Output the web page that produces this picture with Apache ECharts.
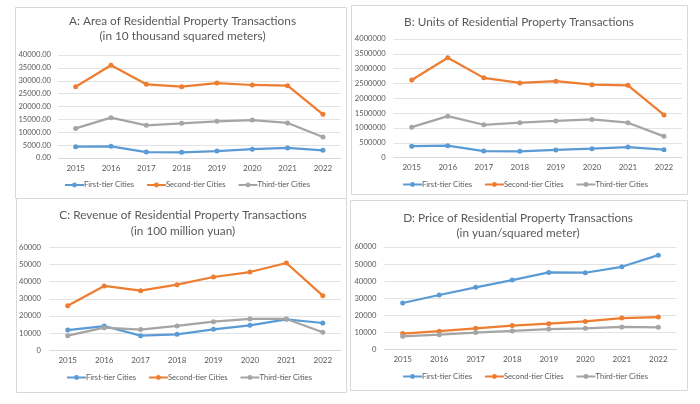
<!DOCTYPE html>
<html>
<head>
<meta charset="utf-8">
<script src="https://cdn.jsdelivr.net/npm/echarts@6/dist/echarts.min.js"></script>
<style>
html,body{margin:0;padding:0;background:#fff;}
#chart{width:700px;height:404px;}
</style>
</head>
<body>
<div id="chart"></div>
<script>
const years = ['2015','2016','2017','2018','2019','2020','2021','2022'];
const seriesNames = ['First-tier Cities','Second-tier Cities','Third-tier Cities'];

const areaFirst  = [4400, 4550, 2300, 2200, 2700, 3400, 3900, 3000];
const areaSecond = [27700, 36000, 28600, 27700, 29100, 28350, 28100, 16950];
const areaThird  = [11500, 15650, 12700, 13450, 14250, 14750, 13600, 8150];

const unitsFirst  = [390000, 405000, 225000, 215000, 260000, 305000, 360000, 270000];
const unitsSecond = [2620000, 3370000, 2690000, 2520000, 2580000, 2460000, 2440000, 1440000];
const unitsThird  = [1030000, 1400000, 1110000, 1180000, 1240000, 1290000, 1180000, 720000];

const revFirst  = [11800, 14150, 8500, 9300, 12200, 14550, 18050, 15900];
const revSecond = [26000, 37500, 34750, 38250, 42700, 45600, 50850, 31800];
const revThird  = [8500, 13200, 12050, 14200, 16700, 18250, 18250, 10500];

const priceFirst  = [27150, 31850, 36350, 40600, 45100, 44900, 48400, 55200];
const priceSecond = [9200, 10600, 12300, 13900, 15050, 16350, 18300, 18900];
const priceThird  = [7600, 8600, 9800, 10750, 11900, 12300, 13100, 12900];

const titles = [
  'A: Area of Residential Property Transactions\n(in 10 thousand squared meters)',
  'B: Units of Residential Property Transactions',
  'C: Revenue of Residential Property Transactions\n(in 100 million yuan)',
  'D: Price of Residential Property Transactions\n(in yuan/squared meter)'
];
const yMax = [40000, 4000000, 60000, 60000];
const yInterval = [5000, 500000, 10000, 10000];
const panelData = [
  [areaFirst, areaSecond, areaThird],
  [unitsFirst, unitsSecond, unitsThird],
  [revFirst, revSecond, revThird],
  [priceFirst, priceSecond, priceThird]
];

const colors = ['#5B9BD5', '#ED7D31', '#A5A5A5'];
const FONT = 'Lato';
const TXT = '#595959';

const layout = [
  {box:[15,7,331,191],  grid:{left:58,   top:55,    width:282.6, height:103},   title:{x:182.5, y:14},  lh:15,  legend:{x:64,  y:181}, ylm:7},
  {box:[351,5,336,189], grid:{left:393.7,top:39,    width:288.3, height:118.7}, title:{x:519,   y:14.5},lh:15,  legend:{x:402, y:180.5}, ylm:8},
  {box:[16,198,330,194],grid:{left:49.5, top:247.3, width:291.5, height:103},   title:{x:183,   y:207},  lh:16,  legend:{x:66,  y:373.5}, ylm:8.5},
  {box:[350,200,337,190],grid:{left:384.4,top:247,  width:292.2, height:102.3}, title:{x:518,   y:210},  lh:15.5,legend:{x:402, y:372.5}, ylm:8}
];

const option = {
  backgroundColor: '#fff',
  animation: false,
  color: colors,
  title: [], legend: [], grid: [], xAxis: [], yAxis: [], series: [],
  graphic: []
};

layout.forEach((L, i) => {
  option.graphic.push({
    type: 'rect', shape: {x: L.box[0]+0.5, y: L.box[1]+0.5, width: L.box[2], height: L.box[3]},
    style: {fill: 'none', stroke: '#d9d9d9', lineWidth: 1}, silent: true, z: -1
  });
  option.title.push({
    text: titles[i], left: L.title.x, top: L.title.y, textAlign: 'center', padding: 0,
    textStyle: {fontFamily: FONT, fontSize: 11.8, fontWeight: 'normal', color: TXT, lineHeight: L.lh}
  });
  option.grid.push({left: L.grid.left, top: L.grid.top, width: L.grid.width, height: L.grid.height, containLabel: false});
  option.xAxis.push({
    type: 'category', gridIndex: i, data: years, boundaryGap: true,
    axisLine: {lineStyle: {color: '#d9d9d9', width: 1}},
    axisTick: {show: false},
    axisLabel: {color: TXT, fontFamily: FONT, fontSize: 8, margin: 6}
  });
  option.yAxis.push({
    type: 'value', gridIndex: i, min: 0, max: yMax[i], interval: yInterval[i],
    axisLine: {show: false}, axisTick: {show: false},
    splitLine: {lineStyle: {color: '#e3e3e3', width: 1}},
    axisLabel: {color: TXT, fontFamily: FONT, fontSize: 7.6, margin: L.ylm,
      formatter: i === 0 ? (v => v.toFixed(2)) : (v => String(v))}
  });
  option.legend.push({
    left: L.legend.x, top: L.legend.y, itemWidth: 19, itemHeight: 6, itemGap: 12,
    data: seriesNames.map(n => ({name: n})),
    textStyle: {color: TXT, fontFamily: FONT, fontSize: 7.6, padding: [0,0,0,-5]},
    padding: 0
  });
  panelData[i].forEach((d, k) => {
    option.series.push({
      name: seriesNames[k], type: 'line', xAxisIndex: i, yAxisIndex: i, data: d,
      symbol: 'circle', symbolSize: 5, showSymbol: true,
      lineStyle: {width: 2.25, color: colors[k]},
      itemStyle: {color: colors[k]}
    });
  });
});

const chart = echarts.init(document.getElementById('chart'), null, {renderer: 'canvas'});
chart.setOption(option);
</script>
</body>
</html>
